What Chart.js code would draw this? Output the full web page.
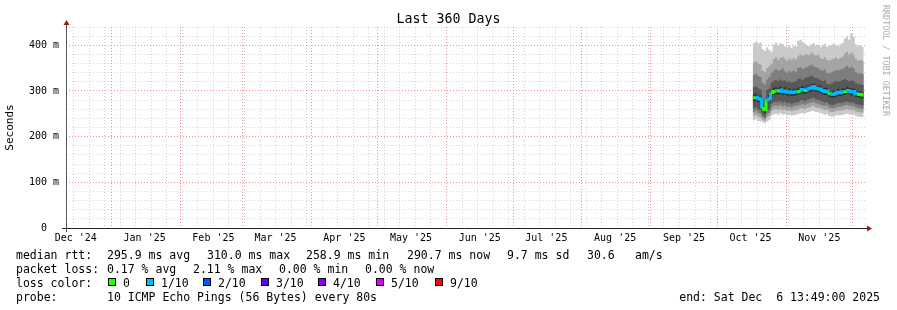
<!DOCTYPE html>
<html>
<head>
<meta charset="utf-8">
<title>Last 360 Days</title>
<script src="https://cdn.jsdelivr.net/npm/chart.js@4.4.1/dist/chart.umd.min.js"></script>
<style>
  body { margin: 0; background: #fff; }
  #wrap { position: relative; width: 897px; height: 310px; overflow: hidden; font-family: "DejaVu Sans Mono", monospace; color: #000; }
  #chart { position: absolute; left: 0; top: 0; }
  #title { position: absolute; left: 0; top: 11px; width: 897px; text-align: center; font-size: 13.3px; line-height: 16px; }
  #credit { position: absolute; left: 881px; top: 5px; writing-mode: vertical-rl; font-size: 8.4px; line-height: 10px; color: #aaa; white-space: pre; }
  .txt { position: absolute; font-size: 11.5px; line-height: 14px; white-space: pre; }
  .key { position: absolute; width: 6px; height: 6px; border: 1px solid #000; }
</style>
</head>
<body>
<div id="wrap">
  <canvas id="chart" width="897" height="310"></canvas>
  <div id="title">Last 360 Days</div>
  <div id="credit">RRDTOOL / TOBI OETIKER</div>

  <span class="txt" style="left:16px;top:248px">median rtt:</span>
  <span class="txt" style="left:107px;top:248px">295.9 ms avg</span>
  <span class="txt" style="left:207px;top:248px">310.0 ms max</span>
  <span class="txt" style="left:306px;top:248px">258.9 ms min</span>
  <span class="txt" style="left:407px;top:248px">290.7 ms now</span>
  <span class="txt" style="left:507px;top:248px">9.7 ms sd</span>
  <span class="txt" style="left:587px;top:248px">30.6</span>
  <span class="txt" style="left:635px;top:248px">am/s</span>

  <span class="txt" style="left:16px;top:261.5px">packet loss:</span>
  <span class="txt" style="left:107px;top:261.5px">0.17 % avg</span>
  <span class="txt" style="left:193px;top:261.5px">2.11 % max</span>
  <span class="txt" style="left:279px;top:261.5px">0.00 % min</span>
  <span class="txt" style="left:365px;top:261.5px">0.00 % now</span>

  <span class="txt" style="left:16px;top:275.5px">loss color:</span>

  <span class="txt" style="left:16px;top:289.5px">probe:</span>
  <span class="txt" style="left:107px;top:289.5px">10 ICMP Echo Pings (56 Bytes) every 80s</span>
  <span class="txt" style="right:17px;top:289.5px">end: Sat Dec  6 13:49:00 2025</span>
</div>
<script>
const DAY = 24 * 3600 * 1000;
const startTime = Date.UTC(2024, 11, 11, 13, 49);
const endTime = Date.UTC(2025, 11, 6, 13, 49);
const firstSample = Date.UTC(2025, 9, 17);   // one sample per day from here

const monthNames = ["Jan", "Feb", "Mar", "Apr", "May", "Jun", "Jul", "Aug", "Sep", "Oct", "Nov", "Dec"];

// loss colour key
const lossLabels = ["0", "1/10", "2/10", "3/10", "4/10", "5/10", "9/10"];
const lossColors = ["#26ff00", "#00b8ff", "#0059ff", "#5e00ff", "#7e00ff", "#dd00ff", "#ff0000"];
const lossKeyX = [108, 146, 203, 261, 318, 376, 435];

// median rtt (ms), Oct 17 -> Dec 6 2025
const medianRtt = [285, 286, 284, 282, 262, 259, 280, 283, 296, 299,
                   301, 300, 302, 299, 300, 297, 298, 296, 297, 298,
                   299, 302, 303, 301, 304, 306, 307, 310, 306, 305,
                   304, 301, 299, 300, 294, 292, 293, 295, 297, 296,
                   298, 299, 301, 300, 298, 299, 294, 293, 292, 291,
                   291];
// index into lossColors for each sample
const lossLevel = [0, 1, 1, 1, 0, 0, 1, 1, 0, 0,
                   1, 0, 1, 1, 1, 1, 1, 1, 1, 1,
                   0, 1, 1, 0, 1, 1, 1, 1, 1, 1,
                   1, 1, 1, 1, 0, 1, 1, 1, 1, 1,
                   1, 0, 1, 1, 1, 1, 1, 0, 0, 0,
                   0];

// sorted ping values (ms), ping1 lowest ... ping10 highest
const ping1 = [236, 238, 234, 233, 232, 229, 233, 236, 246, 249,
               250, 248, 251, 248, 249, 246, 248, 246, 247, 248,
               249, 251, 252, 250, 253, 254, 256, 256, 254, 253,
               252, 250, 248, 249, 245, 244, 244, 246, 247, 247,
               248, 249, 250, 249, 248, 248, 245, 244, 243, 243,
               243];
const ping2 = [246, 248, 244, 242, 237, 234, 242, 245, 256, 259,
               260, 258, 261, 258, 259, 256, 258, 256, 257, 258,
               259, 262, 262, 260, 263, 264, 266, 267, 264, 263,
               262, 260, 258, 259, 255, 254, 254, 256, 257, 257,
               258, 259, 260, 259, 258, 258, 255, 254, 253, 253,
               252];
const ping3 = [254, 256, 252, 250, 242, 239, 249, 252, 264, 267,
               268, 267, 270, 266, 268, 265, 266, 264, 266, 267,
               268, 270, 271, 269, 272, 273, 275, 276, 273, 272,
               270, 268, 267, 268, 263, 262, 262, 264, 266, 265,
               267, 268, 269, 268, 266, 267, 263, 262, 261, 261,
               260];
const ping4 = [262, 264, 260, 258, 247, 244, 256, 259, 272, 276,
               277, 276, 278, 275, 277, 273, 275, 272, 274, 275,
               276, 279, 280, 277, 281, 282, 284, 285, 282, 280,
               279, 277, 275, 276, 271, 269, 270, 272, 274, 273,
               275, 276, 277, 276, 274, 275, 271, 270, 269, 268,
               268];
const ping5 = [277, 279, 276, 275, 255, 252, 272, 276, 288, 291,
               293, 293, 294, 291, 292, 290, 290, 289, 289, 290,
               292, 294, 296, 293, 296, 298, 299, 301, 299, 297,
               296, 294, 291, 292, 287, 285, 285, 287, 289, 289,
               290, 291, 293, 293, 290, 291, 287, 286, 284, 284,
               283];
const ping6 = [292, 294, 290, 290, 271, 267, 287, 292, 302, 307,
               308, 306, 310, 305, 308, 303, 306, 302, 305, 304,
               307, 308, 311, 307, 312, 312, 315, 316, 314, 311,
               312, 307, 307, 306, 302, 298, 301, 301, 305, 302,
               306, 305, 309, 306, 306, 305, 302, 299, 300, 297,
               299];
const ping7 = [308, 310, 306, 303, 284, 280, 302, 305, 318, 322,
               324, 321, 325, 322, 323, 319, 321, 318, 320, 322,
               326, 327, 324, 328, 330, 331, 334, 330, 328, 327,
               324, 321, 323, 316, 314, 316, 319, 321, 320, 322,
               324, 326, 324, 322, 323, 322, 317, 315, 314, 313,
               314];
const ping8 = [335, 338, 333, 330, 318, 314, 325, 330, 340, 345,
               348, 344, 346, 349, 343, 340, 344, 341, 345, 342,
               350, 352, 348, 351, 353, 355, 358, 354, 352, 350,
               346, 344, 347, 340, 338, 341, 343, 346, 344, 347,
               348, 352, 355, 350, 353, 349, 341, 338, 339, 337,
               338];
const ping9 = [362, 365, 360, 358, 345, 342, 350, 354, 360, 370,
               374, 368, 372, 375, 370, 366, 371, 368, 372, 369,
               376, 380, 377, 379, 381, 378, 384, 380, 377, 379,
               372, 370, 374, 368, 366, 369, 371, 374, 370, 372,
               375, 382, 386, 380, 384, 378, 370, 366, 368, 365,
               367];
const ping10 = [405, 408, 404, 406, 392, 388, 395, 390, 386, 402,
                406, 400, 405, 403, 398, 396, 400, 394, 399, 397,
                410, 412, 407, 404, 400, 398, 402, 405, 399, 401,
                396, 400, 403, 397, 399, 401, 404, 400, 398, 402,
                405, 415, 420, 412, 426, 418, 402, 398, 400, 396,
                399];

// smoke pairs, innermost first so it ends up on top
const smokeBands = [
    [ping5, ping6, "#323232"],
    [ping4, ping7, "#585858"],
    [ping3, ping8, "#7e7e7e"],
    [ping2, ping9, "#a4a4a4"],
    [ping1, ping10, "#cacaca"],
];

const minorGrid = "rgba(150, 150, 150, 0.4)";
const majorGrid = "rgba(240, 70, 70, 0.6)";

const toPoints = values => values.map((v, i) => ({ x: firstSample + i * DAY, y: v }));

// x ticks: month starts (major grid), Sundays (minor grid), mid-month labels
const timeTicks = [];
for (let d = new Date(Date.UTC(2024, 11, 1)); d.getTime() <= endTime; d = new Date(Date.UTC(d.getUTCFullYear(), d.getUTCMonth() + 1, 1))) {
    const t = d.getTime();
    if (t >= startTime) timeTicks.push({ value: t, kind: "major" });
    const mid = t + 15 * DAY;
    if (mid >= startTime && mid <= endTime) {
        timeTicks.push({ value: mid, kind: "label", text: monthNames[d.getUTCMonth()] + " '" + String(d.getUTCFullYear()).slice(2) });
    }
}
for (let s = Date.UTC(2024, 11, 15); s <= endTime; s += 7 * DAY) {
    if (new Date(s).getUTCDate() !== 1) timeTicks.push({ value: s, kind: "minor" });
}
timeTicks.sort((a, b) => a.value - b.value);

const yGrid = [];
for (let v = 0; v <= 440; v += 20) yGrid.push(v);

// axis lines with the little rrdtool arrows
const axisArrows = {
    id: "axisArrows",
    afterDraw(chart) {
        const { ctx, chartArea: { left, right, top, bottom } } = chart;
        ctx.save();
        ctx.lineWidth = 1;
        ctx.strokeStyle = "#222";
        ctx.beginPath();
        ctx.moveTo(left - 4, bottom + 0.5);
        ctx.lineTo(right + 2, bottom + 0.5);
        ctx.stroke();
        ctx.strokeStyle = "#555";
        ctx.beginPath();
        ctx.moveTo(left + 0.5, bottom + 4);
        ctx.lineTo(left + 0.5, top - 2);
        ctx.stroke();
        ctx.fillStyle = "#9b1c1c";
        ctx.beginPath();
        ctx.moveTo(right + 2, bottom - 2.5);
        ctx.lineTo(right + 7, bottom + 0.5);
        ctx.lineTo(right + 2, bottom + 3.5);
        ctx.fill();
        ctx.beginPath();
        ctx.moveTo(left - 2.5, top - 2);
        ctx.lineTo(left + 0.5, top - 7);
        ctx.lineTo(left + 3.5, top - 2);
        ctx.fill();
        ctx.restore();
    }
};

const datasets = [{
    data: toPoints(medianRtt),
    stepped: true,
    borderWidth: 3,
    pointRadius: 0,
    fill: false,
    borderColor: lossColors[1],
    segment: { borderColor: ctx => lossColors[lossLevel[ctx.p0DataIndex]] }
}];
smokeBands.forEach(([lo, hi, color]) => {
    const loIndex = datasets.length;
    datasets.push({ data: toPoints(lo), stepped: true, borderWidth: 0, borderColor: "transparent", pointRadius: 0, fill: false });
    datasets.push({ data: toPoints(hi), stepped: true, borderWidth: 0, borderColor: "transparent", pointRadius: 0, fill: loIndex, backgroundColor: color });
});

Chart.defaults.font.family = "'DejaVu Sans Mono', monospace";

new Chart(document.getElementById("chart"), {
    type: "line",
    data: { datasets },
    options: {
        responsive: false,
        animation: false,
        events: [],
        layout: { padding: { left: 0, right: 32, top: 27, bottom: 62 } },
        plugins: { legend: { display: false }, tooltip: { enabled: false } },
        scales: {
            x: {
                type: "linear",
                min: startTime,
                max: endTime,
                z: 1,
                afterBuildTicks: scale => { scale.ticks = timeTicks.map(t => ({ ...t })); },
                afterFit: scale => { scale.height = 20; },
                ticks: {
                    autoSkip: false,
                    maxRotation: 0,
                    minRotation: 0,
                    padding: 4,
                    color: "#000",
                    font: { size: 10 },
                    callback: (v, i, ticks) => ticks[i].kind === "label" ? ticks[i].text : ""
                },
                grid: {
                    drawTicks: false,
                    color: ctx => {
                        const kind = ctx.tick && ctx.tick.kind;
                        if (kind === "major") return majorGrid;
                        if (kind === "minor") return minorGrid;
                        return "transparent";
                    }
                },
                border: { display: false, dash: [1, 2] }
            },
            y: {
                min: 0,
                max: 440,
                z: 1,
                afterBuildTicks: scale => { scale.ticks = yGrid.map(v => ({ value: v })); },
                afterFit: scale => { scale.width = 66; },
                ticks: {
                    autoSkip: false,
                    padding: 7,
                    color: "#000",
                    font: { size: 10 },
                    // "0" keeps the width of the " m" suffix, as rrdtool pads it
                    callback: v => v % 100 === 0 ? (v === 0 ? "0  " : v + " m") : ""
                },
                grid: {
                    drawTicks: false,
                    color: ctx => (ctx.tick && ctx.tick.value % 100 === 0) ? majorGrid : minorGrid
                },
                border: { display: false, dash: [1, 2] },
                title: { display: true, text: "Seconds", color: "#000", font: { size: 11 }, padding: { top: 4, bottom: 0 } }
            }
        }
    },
    plugins: [axisArrows]
});

// loss colour key row
const wrap = document.getElementById("wrap");
lossLabels.forEach((label, i) => {
    const box = document.createElement("span");
    box.className = "key";
    box.style.left = lossKeyX[i] + "px";
    box.style.top = "278px";
    box.style.background = lossColors[i];
    wrap.appendChild(box);
    const txt = document.createElement("span");
    txt.className = "txt";
    txt.style.left = (lossKeyX[i] + 15) + "px";
    txt.style.top = "275.5px";
    txt.textContent = label;
    wrap.appendChild(txt);
});
</script>
</body>
</html>
